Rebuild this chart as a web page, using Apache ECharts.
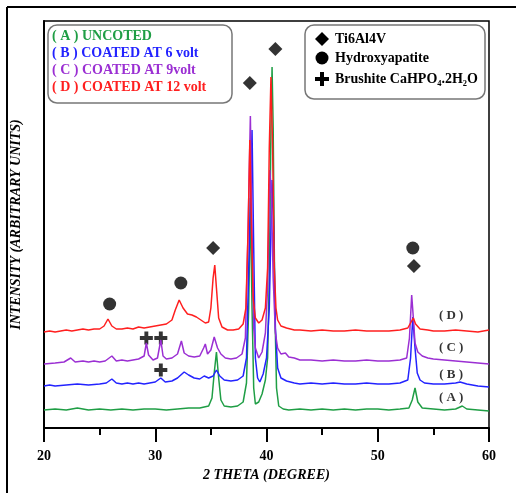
<!DOCTYPE html>
<html>
<head>
<meta charset="utf-8">
<script src="https://cdn.jsdelivr.net/npm/echarts@6/dist/echarts.min.js"></script>
<style>
  html, body { margin: 0; padding: 0; background: #fff; }
  #main { width: 516px; height: 493px; }
</style>
</head>
<body>
<div id="main"></div>
<script>
// XRD patterns, [2theta, intensity] (arbitrary units)
var seriesA = [[20,18],[21,19],[22,18],[23,20],[24,18],[25,19],[26,18],[27,19],[28,18],[29,19],[30,19],[31,18],[32,19],[33,20],[34,20],
  [34.8,22],[35.1,30],[35.3,55],[35.5,76],[35.7,50],[35.9,28],[36.2,22],[36.8,21],[37.4,22],[37.9,26],[38.2,45],[38.4,120],[38.55,230],
  [38.7,120],[38.85,40],[39.0,24],[39.3,26],[39.6,34],[39.9,48],[40.1,70],[40.25,150],[40.4,300],[40.5,361],[40.6,300],[40.75,120],
  [40.9,40],[41.1,22],[41.5,19],[42,18],[43,19],[44,18],[45,19],[46,18],[47,19],[48,18],[49,19],[50,19],[51,18],[52,19],[52.8,20],
  [53.1,28],[53.35,40],[53.6,26],[54,20],[55,19],[56,18],[57,19],[57.6,22],[58,19],[59,18],[60,17]];

var seriesB = [[20,42],[20.5,43],[21,42],[22,43],[23,44],[24,43],[25,44],[25.6,45],[26.1,49],[26.5,45],[27,44],[27.5,45],[28,44],
  [28.5,45],[29,44],[29.5,45],[30,46],[30.5,50],[30.9,46],[31.5,47],[32,50],[32.6,56],[33,53],[33.5,50],[34,49],[34.4,52],[34.8,50],
  [35.2,52],[35.5,58],[35.8,52],[36.2,48],[36.8,47],[37.4,48],[37.9,52],[38.2,70],[38.45,180],[38.7,298],[38.85,180],[39.0,70],
  [39.2,50],[39.4,46],[39.7,54],[40.0,70],[40.25,120],[40.5,248],[40.65,200],[40.8,100],[41.0,60],[41.3,50],[41.8,47],[42.5,45],
  [43,44],[44,45],[45,44],[46,45],[47,44],[48,44],[49,45],[50,44],[51,44],[52,45],[52.7,48],[52.95,70],[53.15,111],[53.35,80],
  [53.55,55],[53.8,48],[54.2,45],[55,44],[56,44],[57,45],[57.4,46],[58,44],[59,42],[60,41]];

var seriesC = [[20,64],[21,65],[21.8,66],[22.4,70],[22.8,66],[23.5,67],[24,66],[24.5,67],[25,66],[25.5,67],[26.1,72],[26.5,67],
  [27,68],[27.5,67],[28,68],[28.5,69],[29,72],[29.2,85],[29.4,73],[29.8,68],[30.2,70],[30.5,88],[30.7,72],[31,69],[31.5,70],[32,74],
  [32.35,87],[32.6,75],[33,72],[33.5,71],[34,72],[34.35,80],[34.5,84],[34.7,74],[35.0,78],[35.3,91],[35.6,80],[35.9,74],[36.3,70],
  [36.8,69],[37.3,70],[37.8,74],[38.1,90],[38.35,200],[38.55,312],[38.7,200],[38.85,100],[39.0,80],[39.3,70],[39.6,76],[39.9,95],
  [40.1,140],[40.3,258],[40.45,230],[40.6,150],[40.8,95],[41.0,80],[41.3,74],[41.7,75],[42,71],[42.5,70],[43,68],[44,68],[45,67],
  [46,68],[47,67],[48,67],[49,68],[50,67],[51,67],[52,68],[52.6,70],[52.85,90],[53.05,133],[53.2,110],[53.35,85],[53.6,76],[54,72],
  [54.5,70],[55,69],[56,68],[57,67],[58,66],[59,65],[60,64]];

var seriesD = [[20,96],[20.5,97],[21,96],[21.5,97],[22,98],[22.5,97],[23,98],[23.5,99],[24,98],[24.5,99],[25,99],[25.4,102],
  [25.75,109],[26.1,102],[26.5,99],[27,99],[27.5,100],[28,99],[28.5,101],[29,100],[29.5,101],[30,102],[30.5,103],[31,104],[31.5,108],
  [31.8,118],[32.15,128],[32.5,120],[32.9,114],[33.3,113],[33.7,111],[34.1,108],[34.5,105],[34.8,106],[35.0,120],[35.2,150],
  [35.35,163],[35.5,140],[35.7,110],[36.0,101],[36.5,98],[37,98],[37.5,99],[37.9,104],[38.15,120],[38.35,200],[38.5,288],[38.65,200],
  [38.8,130],[39.0,110],[39.3,105],[39.6,108],[39.9,120],[40.1,160],[40.25,280],[40.4,351],[40.55,280],[40.7,160],[40.85,120],
  [41.0,108],[41.3,102],[41.8,100],[42.5,98],[43,98],[44,97],[45,98],[46,97],[47,97],[48,98],[49,97],[50,97],[51,97],[52,98],
  [52.7,100],[53.0,106],[53.2,110],[53.4,104],[53.8,99],[54.5,98],[55,97],[56,97],[57,98],[58,97],[59,96],[60,98]];

// phase markers above the peaks
var diamondPts = [[35.2,180],[38.5,345],[40.8,379],[53.25,162]];
var circlePts = [[25.9,124],[32.3,145],[53.15,180]];
var crossPts = [[29.2,90],[30.5,90],[30.5,58]];

// curve tags on the right
var tagNames = ['( A )','( B )','( C )','( D )'];
var tagX = 56.6;
var tagY = [30, 53, 80, 112];

var legendLeft = ['( A ) UNCOTED','( B ) COATED AT 6 volt','( C ) COATED AT 9volt','( D ) COATED AT 12 volt'];
var legendRight = ['Ti6Al4V','Hydroxyapatite','Brushite CaHPO\u2084.2H\u2082O'];
var colors = ['#1f9e45','#2323ff','#9b2fd3','#ff1f1f'];

var serif = '"Liberation Serif", "Times New Roman", serif';
var diamondPath = 'path://M0,-10 L10,0 L0,10 L-10,0 Z';
var crossPath = 'path://M-3,-10 L3,-10 L3,-3 L10,-3 L10,3 L3,3 L3,10 L-3,10 L-3,3 L-10,3 L-10,-3 L-3,-3 Z';

var chart = echarts.init(document.getElementById('main'));

function lineSeries(data, color) {
    return {
        type: 'line',
        data: data,
        showSymbol: false,
        silent: true,
        lineStyle: { color: color, width: 1.5 },
        animation: false
    };
}

function markerSeries(data, symbol, size) {
    return {
        type: 'scatter',
        data: data,
        symbol: symbol,
        symbolSize: size,
        itemStyle: { color: '#000' },
        animation: false
    };
}

var tagData = tagNames.map(function (n, i) { return { name: n, value: [tagX, tagY[i]] }; });

var graphics = [
    // outer frame pieces
    { type: 'line', shape: { x1: 7, y1: 7, x2: 516, y2: 7 }, style: { stroke: '#000', lineWidth: 2 } },
    { type: 'line', shape: { x1: 7, y1: 7, x2: 7, y2: 493 }, style: { stroke: '#000', lineWidth: 2 } },
    // legend boxes
    { type: 'rect', shape: { x: 48, y: 25, width: 184, height: 78, r: 9 }, style: { fill: '#fff', stroke: '#777', lineWidth: 1.5 }, z: 10 },
    { type: 'rect', shape: { x: 305, y: 25, width: 180, height: 74, r: 9 }, style: { fill: '#fff', stroke: '#777', lineWidth: 1.5 }, z: 10 }
];
var leftY = [36, 53, 70, 87];
legendLeft.forEach(function (t, i) {
    graphics.push({
        type: 'text', z: 11,
        style: { text: t, x: 52, y: leftY[i], fill: colors[i], font: 'bold 14px ' + serif, verticalAlign: 'middle', textVerticalAlign: 'middle' }
    });
});
var rightY = [39, 58, 79];
legendRight.forEach(function (t, i) {
    graphics.push({
        type: 'text', z: 11,
        style: { text: t, x: 335, y: rightY[i], fill: '#000', font: 'bold 14px ' + serif, verticalAlign: 'middle', textVerticalAlign: 'middle' }
    });
});
// legend symbols
graphics.push({ type: 'polygon', z: 11, shape: { points: [[322,32],[329,39],[322,46],[315,39]] }, style: { fill: '#000' } });
graphics.push({ type: 'circle', z: 11, shape: { cx: 322, cy: 58, r: 6.5 }, style: { fill: '#000' } });
graphics.push({ type: 'polygon', z: 11, shape: { points: [[320,72],[324,72],[324,77],[329,77],[329,81],[324,81],[324,86],[320,86],[320,81],[315,81],[315,77],[320,77]] }, style: { fill: '#000' } });

var option = {
    backgroundColor: '#fff',
    animation: false,
    grid: { left: 44, right: 27, top: 21, bottom: 65, show: true, borderColor: '#000', borderWidth: 1.5 },
    xAxis: {
        type: 'value',
        min: 20, max: 60, interval: 10,
        name: '2 THETA (DEGREE)',
        nameLocation: 'middle',
        nameGap: 40,
        nameTextStyle: { fontFamily: serif, fontWeight: 'bold', fontStyle: 'italic', fontSize: 14, color: '#000' },
        axisLine: { lineStyle: { color: '#000', width: 2 } },
        axisTick: { show: true, inside: false, length: 14, lineStyle: { color: '#000', width: 2 } },
        minorTick: { show: true, splitNumber: 2, length: 7, lineStyle: { color: '#000', width: 2 } },
        axisLabel: { fontFamily: serif, fontWeight: 'bold', fontSize: 14, color: '#000', margin: 21 },
        splitLine: { show: false }
    },
    yAxis: {
        type: 'value',
        min: 0, max: 407,
        name: 'INTENSITY (ARBITRARY UNITS)',
        nameLocation: 'middle',
        nameGap: 21,
        nameRotate: 90,
        nameTextStyle: { fontFamily: serif, fontWeight: 'bold', fontStyle: 'italic', fontSize: 14, color: '#000' },
        axisLine: { show: true, lineStyle: { color: '#000', width: 2 } },
        axisTick: { show: false },
        axisLabel: { show: false },
        splitLine: { show: false }
    },
    series: [
        lineSeries(seriesA, colors[0]),
        lineSeries(seriesB, colors[1]),
        lineSeries(seriesC, colors[2]),
        lineSeries(seriesD, colors[3]),
        markerSeries(diamondPts, diamondPath, 14),
        markerSeries(circlePts, 'circle', 13),
        markerSeries(crossPts, crossPath, 13),
        {
            type: 'scatter',
            data: tagData,
            symbolSize: 0,
            label: {
                show: true, position: 'inside', formatter: '{b}',
                fontFamily: serif, fontWeight: 'bold', fontSize: 13, color: '#000'
            },
            animation: false
        }
    ],
    graphic: graphics
};
chart.setOption(option);
</script>
</body>
</html>
